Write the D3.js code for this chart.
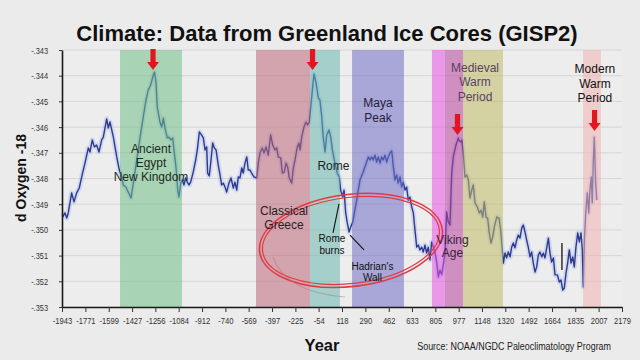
<!DOCTYPE html>
<html><head><meta charset="utf-8">
<script src="https://cdn.jsdelivr.net/npm/d3@7"></script>
<style>
html,body{margin:0;padding:0;background:#ebebeb;}
svg{display:block;font-family:"Liberation Sans",Arial,Helvetica,sans-serif;}
</style></head><body>
<svg id="chart" width="640" height="360"></svg>
<script>
// ---------------- DATA ----------------
const years = [-1939,-1921,-1908,-1897,-1872,-1855,-1835,-1816,-1798,-1774,-1749,-1737,-1720,-1705,-1688,-1671,-1651,-1639,-1614,-1602,-1590,-1565,-1540,-1521,-1504,-1492,-1474,-1455,-1435,-1418,-1393,-1369,-1345,-1325,-1308,-1290,-1271,-1262,-1251,-1242,-1222,-1209,-1197,-1185,-1168,-1155,-1143,-1128,-1119,-1104,-1091,-1082,-1069,-1058,-1045,-1033,-1021,-1008,-996,-977,-959,-947,-932,-915,-903,-890,-878,-871,-859,-846,-834,-822,-809,-793,-780,-768,-756,-743,-731,-714,-699,-682,-670,-657,-645,-633,-620,-609,-596,-583,-572,-559,-547,-530,-510,-498,-486,-469,-456,-441,-425,-407,-392,-375,-363,-351,-333,-321,-307,-294,-282,-270,-252,-240,-228,-211,-199,-191,-179,-162,-147,-135,-123,-112,-98,-88,-73,-56,-44,-31,-20,-7,5,22,35,47,66,83,98,108,123,133,145,157,170,182,197,226,250,274,299,312,324,337,348,361,373,385,398,410,422,434,447,459,471,484,496,508,521,532,545,557,569,582,594,606,618,631,643,655,668,680,692,705,716,729,741,753,766,778,790,803,815,827,839,852,863,876,888,900,913,925,937,957,974,981,994,1000,1011,1023,1036,1048,1060,1073,1084,1097,1114,1129,1141,1154,1165,1178,1190,1202,1215,1227,1239,1257,1274,1286,1298,1306,1318,1330,1342,1355,1367,1379,1391,1404,1416,1428,1441,1452,1465,1477,1489,1502,1514,1526,1539,1551,1563,1575,1588,1600,1612,1625,1637,1649,1661,1674,1686,1703,1718,1730,1743,1754,1767,1779,1791,1804,1816,1828,1840,1853,1865,1877,1887,1894,1902,1912,1924,1934,1943,1953,1960,1968,1975,1985,1993];
const values = [-349.50,-349.34,-349.54,-349.34,-348.56,-348.91,-348.56,-348.37,-347.94,-347.40,-346.81,-346.97,-346.50,-346.77,-346.70,-346.97,-346.50,-346.39,-345.68,-346.04,-345.80,-346.39,-347.16,-347.67,-347.94,-348.25,-348.33,-348.53,-348.76,-348.18,-347.28,-346.42,-345.61,-344.95,-344.56,-344.36,-343.97,-343.86,-344.28,-345.22,-345.80,-346.00,-345.65,-346.04,-346.42,-346.39,-346.50,-346.42,-346.89,-347.55,-348.45,-348.72,-348.18,-348.06,-348.25,-347.98,-348.14,-348.25,-348.14,-347.75,-347.28,-346.89,-346.19,-346.31,-346.42,-346.89,-346.77,-347.79,-347.90,-347.28,-346.62,-346.81,-346.89,-347.47,-347.86,-348.25,-348.18,-348.33,-348.53,-348.18,-347.98,-348.37,-348.14,-348.45,-347.94,-347.98,-347.59,-347.79,-347.40,-347.16,-347.67,-347.67,-347.79,-347.94,-347.98,-347.40,-347.01,-346.81,-347.01,-346.77,-347.09,-346.31,-346.70,-346.89,-346.81,-347.16,-347.20,-347.79,-347.75,-347.40,-347.55,-347.98,-348.18,-347.59,-347.28,-346.77,-346.62,-346.89,-346.39,-346.00,-345.80,-345.92,-345.80,-345.22,-344.44,-343.93,-344.28,-344.87,-344.95,-345.61,-346.39,-346.97,-346.31,-346.11,-346.39,-346.89,-347.40,-347.79,-347.94,-348.45,-348.72,-348.45,-349.34,-349.73,-350.08,-349.89,-349.69,-348.84,-348.06,-347.75,-347.36,-347.16,-347.28,-347.16,-347.28,-347.09,-347.36,-347.16,-347.40,-347.16,-347.28,-347.09,-347.36,-347.16,-347.01,-346.93,-347.55,-348.06,-347.86,-348.18,-347.94,-348.33,-348.14,-348.45,-348.33,-348.84,-348.72,-349.11,-349.34,-350.00,-350.67,-350.59,-350.78,-350.67,-350.86,-350.59,-350.90,-350.67,-351.17,-350.47,-350.67,-350.90,-351.25,-351.83,-351.56,-351.75,-351.37,-350.90,-349.30,-349.69,-349.81,-347.86,-347.16,-346.70,-346.42,-346.54,-346.58,-346.50,-347.01,-347.94,-347.86,-348.06,-348.76,-348.45,-348.25,-348.95,-349.11,-349.34,-349.23,-349.50,-348.91,-349.50,-349.54,-350.12,-350.51,-350.28,-349.89,-349.50,-349.54,-350.00,-350.78,-351.29,-350.90,-351.09,-350.86,-351.05,-350.67,-350.51,-350.70,-350.39,-350.20,-350.32,-349.93,-349.81,-350.08,-350.39,-350.67,-351.05,-350.86,-351.29,-351.64,-351.44,-350.98,-350.86,-351.05,-350.90,-351.09,-350.70,-350.32,-350.90,-351.25,-351.09,-351.75,-351.75,-352.03,-351.95,-352.34,-352.26,-351.68,-351.29,-350.78,-351.29,-351.05,-351.44,-350.67,-350.12,-350.47,-350.12,-350.78,-352.22,-350.39,-349.34,-348.56,-349.34,-348.45,-347.94,-348.95,-347.28,-346.39,-348.18,-348.84];

const xTicks = [-1943,-1771,-1599,-1427,-1256,-1084,-912,-740,-569,-397,-225,-54,118,290,462,633,805,977,1148,1320,1492,1664,1835,2007,2179];
const yTicks = [-343,-344,-345,-346,-347,-348,-349,-350,-351,-352,-353];
const yTickLabels = ["-.343","-.344","-.345","-.346","-.347","-.348","-.349","-.350","-.351","-.352","-.353"];

// Historical periods (years)
const bandNames = ["Ancient Egypt New Kingdom","Classical Greece","Rome","Maya Peak","Viking Age","Viking / Medieval","Medieval Warm Period","Modern Warm Period"];
const bandStart = [-1516,-515,-118,192,780,876,1009,1892];
const bandEnd   = [-1060,-118,103,574,876,1009,1303,2024];

// Red arrow tips (year, value)
const arrowYears  = [-1273,-99,968,1977];
const arrowValues = [-343.78,-343.78,-346.31,-346.15];

// Text annotations: lines, anchor year (centre), anchor value (first baseline)
const labelLines  = [["Ancient","Egypt","New Kingdom"],["Classical","Greece"],["Rome"],["Maya","Peak"],["Rome","burns"],["Hadrian's","Wall"],["Viking","Age"],["Medieval","Warm","Period"],["Modern","Warm","Period"]];
const labelYears  = [-1288,-309,55,383,44,342,931,1097,1980];
const labelValues = [-347.01,-349.42,-347.67,-345.22,-350.49,-351.56,-350.55,-343.84,-343.91];

// Pointer lines [year, value]
const pointerFrom = [[96,-348.99],[177,-350.20]];
const pointerTo   = [[52,-350.12],[280,-350.78]];

// Circled region centre
const circleYear = 184, circleValue = -350.41;

// ---------------- STYLE ----------------
const bandFill = ["rgb(112,192,134)","rgb(190,103,122)","rgb(103,183,174)","rgb(111,109,196)","rgb(229,83,225)","rgb(183,67,156)","rgb(192,185,102)","rgb(241,178,178)"];
const labelSize  = [12,12,12,12,10,10,12,12,12];
const labelGap   = [14,14,14,15,11.5,11.5,13,14.5,14.4];
const labelColor = ["#1c2a22","#2a1c22","#1c2424","#22223a","#111","#111","#3a1f3a","#5a4262","#111"];

// ---------------- CHART ----------------
const svg = d3.select("#chart");
const W = 640, H = 360;
const x = d3.scaleLinear().domain([-1943, 2179]).range([62, 622]);
const y = d3.scaleLinear().domain([-353, -343]).range([307, 50]);

svg.append("rect").attr("width", W).attr("height", H).attr("fill", "#ebebeb");
svg.append("rect").attr("x", x(-1943)).attr("y", y(-343)).attr("width", x(2179)-x(-1943)).attr("height", y(-353)-y(-343)).attr("fill", "#ededed");

// gridlines
svg.append("g").selectAll("line").data(yTicks).join("line")
  .attr("x1", x(-1943)).attr("x2", x(2179))
  .attr("y1", d => y(d)).attr("y2", d => y(d))
  .attr("stroke", "#d6d6d6").attr("stroke-width", 1);

// data line with glow
const line = d3.line().x((d,i) => x(years[i])).y((d,i) => y(values[i]));
svg.append("path").datum(values).attr("d", line)
  .attr("fill", "none").attr("stroke", "#9db0ea").attr("stroke-width", 5).attr("stroke-opacity", 0.35).attr("stroke-linejoin","round");
svg.append("path").datum(values).attr("d", line)
  .attr("fill", "none").attr("stroke", "#2b3a8f").attr("stroke-width", 1.4).attr("stroke-linejoin","round");

// bands (translucent, drawn over the line)
svg.append("g").selectAll("rect").data(bandNames).join("rect")
  .attr("x", (d,i) => x(bandStart[i]))
  .attr("width", (d,i) => x(bandEnd[i]) - x(bandStart[i]))
  .attr("y", y(-343)).attr("height", y(-353) - y(-343))
  .attr("fill", (d,i) => bandFill[i]).attr("fill-opacity", 0.55);

// stray marker
svg.append("line").attr("x1", x(1737)).attr("x2", x(1737)).attr("y1", y(-350.51)).attr("y2", y(-351.56))
  .attr("stroke", "#111").attr("stroke-width", 1.3);

// axes
const yAxis = d3.axisLeft(y).tickValues(yTicks).tickSize(3).tickSizeOuter(0)
  .tickFormat((d,i) => yTickLabels[i]);
const gy = svg.append("g").attr("transform", `translate(${x(-1943)},0)`).call(yAxis);
gy.select(".domain").attr("stroke", "#1a1a1a").attr("stroke-width", 1.6);
gy.selectAll(".tick line").attr("stroke", "#333");
gy.selectAll(".tick text").attr("x", 0).attr("transform", "translate(-14,0) scale(0.78,1)")
  .attr("font-size", 9.5).attr("fill", "#333");

const xAxis = d3.axisBottom(x).tickValues(xTicks).tickSize(5).tickSizeOuter(0).tickFormat(d => String(d));
const gx = svg.append("g").attr("transform", `translate(0,${y(-353)})`).call(xAxis);
gx.select(".domain").attr("stroke", "#1a1a1a").attr("stroke-width", 1.6);
gx.selectAll(".tick line").attr("stroke", "#333");
gx.selectAll(".tick text").attr("y", 10).attr("transform", "scale(0.8,1)").attr("font-size", 9.5).attr("fill", "#333");

// red ellipse
const ex = x(circleYear), ey = y(circleValue);
const eg = svg.append("g").attr("transform", `translate(${ex},${ey}) rotate(-7)`);
eg.append("ellipse").attr("rx", 92).attr("ry", 46).attr("fill", "none").attr("stroke", "#e23a44").attr("stroke-width", 1.6);
eg.append("ellipse").attr("rx", 89).attr("ry", 43).attr("fill", "none").attr("stroke", "#e23a44").attr("stroke-width", 1.2);
svg.append("path")
  .attr("d", `M${x(-390)},${y(-351.05)} Q${x(-302)},${y(-352.42)} ${x(140)},${y(-352.61)}`)
  .attr("fill", "none").attr("stroke", "#c07078").attr("stroke-width", 1.2).attr("stroke-opacity", 0.5);

// pointer lines
svg.append("g").selectAll("line").data(pointerFrom).join("line")
  .attr("x1", d => x(d[0])).attr("y1", d => y(d[1]))
  .attr("x2", (d,i) => x(pointerTo[i][0])).attr("y2", (d,i) => y(pointerTo[i][1]))
  .attr("stroke", "#111").attr("stroke-width", 1.1);

// text annotations
labelLines.forEach((lines, i) => {
  const t = svg.append("text").attr("text-anchor", "middle")
    .attr("font-size", labelSize[i]).attr("fill", labelColor[i]);
  lines.forEach((s, j) => {
    t.append("tspan").attr("x", x(labelYears[i])).attr("y", y(labelValues[i]) + j * labelGap[i]).text(s);
  });
});

// red arrows
svg.append("g").selectAll("path").data(arrowYears).join("path")
  .attr("transform", (d,i) => `translate(${x(d)},${y(arrowValues[i])})`)
  .attr("d", "M0,0 L-6,-8 L-2.6,-8 L-2.6,-21 L2.6,-21 L2.6,-8 L6,-8 Z")
  .attr("fill", "#e3161f");

// titles
svg.append("text").attr("x", 327).attr("y", 41).attr("text-anchor", "middle")
  .attr("font-size", 22).attr("font-weight", "bold").attr("fill", "#111")
  .text("Climate: Data from Greenland Ice Cores (GISP2)");
svg.append("text").attr("transform", "translate(26,178) rotate(-90)").attr("text-anchor", "middle")
  .attr("font-size", 14).attr("font-weight", "bold").attr("fill", "#111").text("d Oxygen -18");
svg.append("text").attr("x", 322).attr("y", 351).attr("text-anchor", "middle")
  .attr("font-size", 16.5).attr("font-weight", "bold").attr("fill", "#111").text("Year");
svg.append("text").attr("transform", "translate(611,350) scale(0.85,1)").attr("text-anchor", "end")
  .attr("font-size", 10.5).attr("fill", "#222")
  .text("Source: NOAA/NGDC Paleoclimatology Program");
</script>
</body></html>
